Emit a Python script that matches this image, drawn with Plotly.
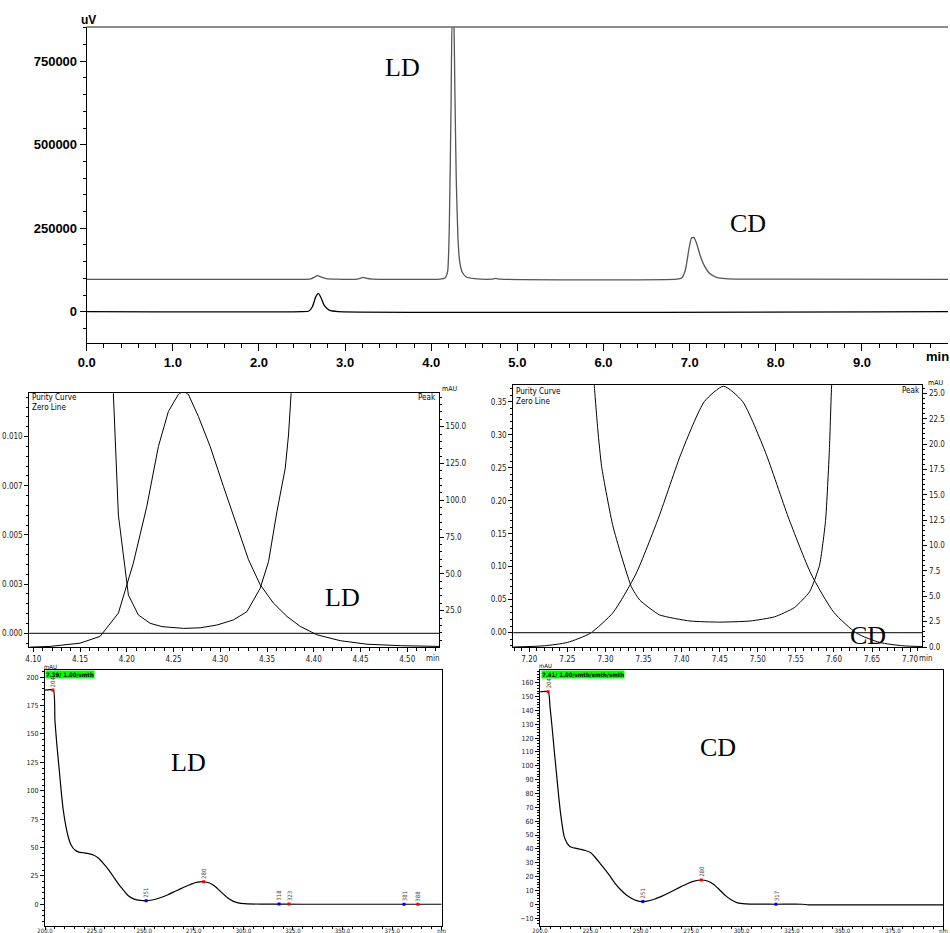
import plotly.graph_objects as go

# ---------------- data ----------------
# Top chromatogram (uV vs min)
chrom_a_time = [0.00, 2.50, 2.60, 2.64, 2.68, 2.72, 2.78, 2.90, 3.14, 3.18, 3.21, 3.25, 3.32,
                4.10, 4.16, 4.19, 4.21, 4.23, 4.245, 4.26, 4.275, 4.29, 4.31, 4.33, 4.36, 4.41,
                4.50, 4.70, 4.75, 4.80, 6.85, 6.91, 6.95, 6.99, 7.02, 7.05, 7.08, 7.12, 7.17,
                7.23, 7.31, 7.42, 7.60, 10.00]
chrom_a_uv = [97000, 97000, 98500, 103000, 108000, 104000, 99000, 97500, 97500, 100500, 103000,
              99500, 97500, 97500, 101000, 120000, 260000, 620000, 900000, 880000, 650000, 400000,
              220000, 150000, 118000, 103000, 99000, 97500, 99500, 97500, 97500, 102000, 125000,
              185000, 220000, 222000, 205000, 170000, 138000, 115000, 103000, 99000, 97500, 97000]
chrom_b_time = [0.00, 2.50, 2.58, 2.62, 2.66, 2.69, 2.72, 2.76, 2.82, 2.92, 10.00]
chrom_b_uv = [0, 0, 2000, 15000, 45000, 55000, 42000, 18000, 4000, 500, 0]
top_y_ticks = [0, 250000, 500000, 750000]

# LD peak-purity panel
ld_peak_time = [4.096, 4.118, 4.150, 4.1714, 4.191, 4.207, 4.2214, 4.2338, 4.2445, 4.2552,
                4.2603, 4.2659, 4.2766, 4.2892, 4.3034, 4.3178, 4.3302, 4.3427, 4.3569, 4.3713,
                4.3855, 4.4034, 4.4283, 4.4569, 4.4925, 4.534]
ld_peak_mau = [0.2, 0.7, 2.9, 7.5, 23.3, 57.3, 95.8, 136.5, 160.3, 171.9, 174, 171.9, 156.9,
               136.5, 109.4, 82.2, 59.6, 42.6, 30.1, 21.1, 14.3, 8.6, 4.6, 2.2, 1.2, 0.7]
ld_pur_time = [4.1850, 4.1856, 4.1910, 4.2017, 4.2124, 4.2249, 4.2375, 4.2606, 4.2785, 4.2963,
               4.3141, 4.3285, 4.3427, 4.3516, 4.3606, 4.3695, 4.3730, 4.3766, 4.3775]
ld_purity = [0.0135, 0.01221, 0.00601, 0.00195, 0.00093, 0.00051, 0.00034, 0.00025, 0.00028,
             0.00042, 0.00068, 0.00110, 0.00229, 0.00364, 0.00618, 0.00838, 0.01008, 0.01221,
             0.0135]

# CD peak-purity panel
cd_peak_time = [7.179, 7.22, 7.25, 7.28, 7.31, 7.34, 7.37, 7.40, 7.43, 7.455, 7.48, 7.51, 7.54,
                7.57, 7.60, 7.63, 7.66, 7.69, 7.716]
cd_peak_mau = [0.0, 0.12, 0.45, 1.35, 3.4, 7.2, 12.8, 19.2, 24.2, 25.7, 24.2, 19.2, 12.8, 7.2,
               3.4, 1.35, 0.45, 0.12, 0.05]
cd_pur_time = [7.2840, 7.2853, 7.290, 7.295, 7.310, 7.334, 7.345, 7.371, 7.411, 7.450, 7.490,
               7.522, 7.548, 7.568, 7.581, 7.589, 7.594, 7.597, 7.599]
cd_purity = [0.40, 0.375, 0.307, 0.2515, 0.1606, 0.0697, 0.0495, 0.027, 0.0177, 0.016, 0.0177,
             0.024, 0.038, 0.062, 0.102, 0.170, 0.277, 0.375, 0.40]

# UV spectra
ld_spec_nm = [200, 204.2, 205, 206, 207.2, 208.2, 209.2, 210.4, 211.7, 213.2, 215.1, 217, 219.3,
              222, 224.4, 227, 229.4, 232, 234.5, 237, 239.5, 242, 245, 248, 251, 254, 258, 262,
              266, 270, 274, 277, 280, 283, 286, 289, 292, 295, 298, 302, 310, 330, 360, 400]
ld_spec_mau = [188.6, 188.6, 162, 140, 118, 99, 83, 70, 59.5, 52, 47.8, 46, 45.4, 44.6, 43.4,
               40.5, 36, 30.5, 24.3, 18, 12.6, 7.5, 4.6, 3.5, 3.2, 3.8, 5.8, 8.5, 11.8, 15, 18,
               19.5, 19.9, 18.8, 15.5, 10.5, 5.8, 2.6, 1.0, 0.4, 0.2, 0.1, 0.1, 0.1]
ld_mark_nm = [204, 251, 280, 318, 323, 381, 388]
ld_mark_mau = [188.6, 3.2, 19.9, 0.2, 0.2, 0.1, 0.1]
ld_mark_color = ["red", "blue", "red", "blue", "red", "blue", "red"]

cd_spec_nm = [200, 204.1, 205, 205.8, 207, 208, 209, 210, 211, 212, 213.5, 215, 217.5, 220,
              222.5, 225, 227, 229.1, 232, 234.9, 237, 240, 243, 246, 248, 250.5, 253, 257, 261,
              265, 269, 273, 276, 280.2, 283, 286, 289, 292, 295, 298, 302, 310, 317, 330, 333,
              360, 400]
cd_spec_mau = [153.5, 153.5, 142, 130.7, 112, 97, 82, 68, 57, 48.8, 44, 41.6, 40.5, 39.7, 38.8,
               37.3, 34.5, 30.8, 25.5, 19.9, 15.5, 10.5, 6.5, 3.8, 2.6, 1.9, 2.3, 3.8, 6.2, 9,
               12, 14.8, 16.5, 17.5, 16.8, 14.5, 10.5, 6.2, 3.0, 1.0, 0.3, 0.1, 0, 0, -0.4,
               -0.5, -0.5]
cd_mark_nm = [204, 251, 280, 317]
cd_mark_mau = [153.5, 1.9, 17.5, 0.0]
cd_mark_color = ["red", "blue", "red", "blue"]

# ---------------- helpers ----------------
W, H = 950, 933


def px(p):
    return p / W


def py(p):
    return 1 - p / H


SANS = "Liberation Sans, Arial, sans-serif"
NARROW = "Liberation Sans Narrow, Arial Narrow, DejaVu Sans Condensed, Liberation Sans, sans-serif"
SERIF = "Liberation Serif, Times New Roman, serif"

fig = go.Figure()

# top chromatogram
fig.add_trace(go.Scatter(x=chrom_a_time, y=chrom_a_uv, mode="lines", xaxis="x", yaxis="y",
                         line=dict(color="#555555", width=1.3, shape="spline", smoothing=0.5)))
fig.add_trace(go.Scatter(x=chrom_b_time, y=chrom_b_uv, mode="lines", xaxis="x", yaxis="y",
                         line=dict(color="black", width=1.3, shape="spline", smoothing=0.5)))

# LD purity panel
fig.add_trace(go.Scatter(x=ld_peak_time, y=ld_peak_mau, mode="lines", xaxis="x2", yaxis="y3",
                         line=dict(color="black", width=1)))
fig.add_trace(go.Scatter(x=ld_pur_time, y=ld_purity, mode="lines", xaxis="x2", yaxis="y2",
                         line=dict(color="black", width=1)))

# CD purity panel
fig.add_trace(go.Scatter(x=cd_peak_time, y=cd_peak_mau, mode="lines", xaxis="x3", yaxis="y5",
                         line=dict(color="black", width=1, shape="spline", smoothing=0.6)))
fig.add_trace(go.Scatter(x=cd_pur_time, y=cd_purity, mode="lines", xaxis="x3", yaxis="y4",
                         line=dict(color="black", width=1, shape="spline", smoothing=0.5)))

# spectra
fig.add_trace(go.Scatter(x=ld_spec_nm, y=ld_spec_mau, mode="lines", xaxis="x4", yaxis="y6",
                         line=dict(color="black", width=1.2, shape="spline", smoothing=0.5)))
fig.add_trace(go.Scatter(x=ld_mark_nm, y=ld_mark_mau, mode="markers", xaxis="x4", yaxis="y6",
                         marker=dict(color=ld_mark_color, size=3, symbol="square")))
fig.add_trace(go.Scatter(x=cd_spec_nm, y=cd_spec_mau, mode="lines", xaxis="x5", yaxis="y7",
                         line=dict(color="black", width=1.2, shape="spline", smoothing=0.5)))
fig.add_trace(go.Scatter(x=cd_mark_nm, y=cd_mark_mau, mode="markers", xaxis="x5", yaxis="y7",
                         marker=dict(color=cd_mark_color, size=3, symbol="square")))

common = dict(showgrid=False, zeroline=False, showline=True, linecolor="black", linewidth=1,
              ticks="outside", tickcolor="black", tickwidth=1, automargin=False)

mid_font = dict(family=NARROW, size=8, color="#222222")
bot_font = dict(family=NARROW, size=6, color="#222222")

fig.update_layout(
    width=W, height=H, margin=dict(l=0, r=0, t=0, b=0, autoexpand=False),
    paper_bgcolor="white", plot_bgcolor="rgba(0,0,0,0)", showlegend=False,
    # ---- top
    xaxis=dict(domain=[px(86.7), px(948)], anchor="y", range=[0, 9.999], tick0=0, dtick=1,
               tickformat=".1f", ticklen=7,
               tickfont=dict(family=SANS, size=13, color="black", weight="bold"),
               minor=dict(dtick=0.2, tick0=0, ticklen=4, ticks="outside", tickcolor="black"),
               **common),
    yaxis=dict(domain=[py(343), py(27)], anchor="x", range=[-93700, 852400],
               tickvals=top_y_ticks, tickformat="d", ticklen=6,
               tickfont=dict(family=SANS, size=13, color="black", weight="bold"),
               minor=dict(dtick=50000, tick0=0, ticklen=3, ticks="outside", tickcolor="black"),
               **common),
    # ---- middle left
    xaxis2=dict(domain=[px(29.3), px(439)], anchor="y2", range=[4.0957, 4.534], tick0=4.10,
                dtick=0.05, tickformat=".2f", ticklen=4, tickfont=mid_font, mirror=True,
                minor=dict(dtick=0.01, tick0=4.10, ticklen=3, ticks="outside", tickcolor="black"),
                **common),
    yaxis2=dict(domain=[py(647), py(393.3)], anchor="x2", range=[-0.000696, 0.0122],
                tick0=0, dtick=0.0025, tickformat=".4f", ticklen=4, tickfont=mid_font,
                labelalias={"0.0000": "0.000", "0.0025": "0.003", "0.0050": "0.005",
                            "0.0075": "0.007", "0.0100": "0.010"},
                minor=dict(dtick=0.0005, tick0=0, ticklen=2, ticks="outside", tickcolor="black"),
                **common),
    yaxis3=dict(overlaying="y2", side="right", anchor="x2", range=[0.3, 172.65], tick0=0,
                dtick=25, tickformat=".1f", ticklen=4, tickfont=mid_font,
                minor=dict(dtick=5, tick0=0, ticklen=2, ticks="outside", tickcolor="black"),
                **common),
    # ---- middle right
    xaxis3=dict(domain=[px(513.3), px(922.3)], anchor="y4", range=[7.179, 7.716], tick0=7.20,
                dtick=0.05, tickformat=".2f", ticklen=4, tickfont=mid_font, mirror=True,
                minor=dict(dtick=0.01, tick0=7.20, ticklen=3, ticks="outside", tickcolor="black"),
                **common),
    yaxis4=dict(domain=[py(647), py(385)], anchor="x3", range=[-0.0217, 0.3753], tick0=0,
                dtick=0.05, tickformat=".2f", ticklen=4, tickfont=mid_font,
                minor=dict(dtick=0.01, tick0=0, ticklen=2, ticks="outside", tickcolor="black"),
                **common),
    yaxis5=dict(overlaying="y4", side="right", anchor="x3", range=[0, 25.82], tick0=0,
                dtick=2.5, tickformat=".1f", ticklen=4, tickfont=mid_font,
                minor=dict(dtick=0.5, tick0=0, ticklen=2, ticks="outside", tickcolor="black"),
                **common),
    # ---- bottom left
    xaxis4=dict(domain=[px(45), px(441.7)], anchor="y6", range=[200, 400], tick0=200, dtick=25,
                tickformat=".1f", ticklen=3, tickfont=bot_font, mirror=True,
                labelalias={"400.0": "nm"}, ticklabelstandoff=-4,
                minor=dict(dtick=5, tick0=200, ticklen=2, ticks="outside", tickcolor="black"),
                **common),
    yaxis6=dict(domain=[py(925.7), py(669.5)], anchor="x4", range=[-18.8, 206.7], tick0=0,
                dtick=25, ticklen=4, tickfont=dict(family=NARROW, size=7, color="#222222"),
                mirror=True,
                minor=dict(dtick=5, tick0=0, ticklen=2, ticks="outside", tickcolor="black"),
                **common),
    # ---- bottom right
    xaxis5=dict(domain=[px(540), px(943.3)], anchor="y7", range=[200, 400], tick0=200, dtick=25,
                tickformat=".1f", ticklen=3, tickfont=bot_font, mirror=True,
                labelalias={"400.0": "nm"}, ticklabelstandoff=-4,
                minor=dict(dtick=5, tick0=200, ticklen=2, ticks="outside", tickcolor="black"),
                **common),
    yaxis7=dict(domain=[py(925.7), py(670)], anchor="x5", range=[-15.5, 169.2], tick0=0,
                dtick=10, ticklen=4, tickfont=dict(family=NARROW, size=7, color="#222222"),
                mirror=True,
                minor=dict(dtick=2, tick0=0, ticklen=2, ticks="outside", tickcolor="black"),
                **common),
)

shapes = [
    dict(type="line", xref="x domain", yref="y domain", x0=0, x1=1, y0=1, y1=1,
         line=dict(color="#666666", width=1.3)),
    dict(type="line", xref="x2 domain", yref="y2", x0=0, x1=1, y0=0, y1=0,
         line=dict(color="black", width=1)),
    dict(type="line", xref="x3 domain", yref="y4", x0=0, x1=1, y0=0, y1=0,
         line=dict(color="#333333", width=1.2)),
]
fig.update_layout(shapes=shapes)


def ann(x, y, text, size, family=SANS, color="black", xanchor="center", yanchor="middle",
        weight="normal", **kw):
    return dict(x=px(x), y=py(y), xref="paper", yref="paper", text=text, showarrow=False,
                xanchor=xanchor, yanchor=yanchor,
                font=dict(family=family, size=size, color=color, weight=weight), **kw)


annotations = [
    ann(88, 20, "uV", 12, weight="bold"),
    ann(937, 357, "min", 13, weight="bold"),
    ann(402, 68, "LD", 26, family=SERIF),
    ann(748, 224, "CD", 26, family=SERIF),
    # middle left
    ann(30, 397.7, "Purity Curve", 8, family=NARROW, xanchor="left"),
    ann(30, 407, "Zero Line", 8, family=NARROW, xanchor="left"),
    ann(449, 389, "mAU", 7, family=NARROW),
    ann(438, 397.7, "Peak", 8, family=NARROW, xanchor="right"),
    ann(342, 597, "LD", 26, family=SERIF),
    ann(433, 658, "min", 8, family=NARROW, color="#222222"),
    # middle right
    ann(514, 391.7, "Purity Curve", 8, family=NARROW, xanchor="left"),
    ann(514, 401.7, "Zero Line", 8, family=NARROW, xanchor="left"),
    ann(935, 382.7, "mAU", 7, family=NARROW),
    ann(922, 390, "Peak", 8, family=NARROW, xanchor="right"),
    ann(868, 635, "CD", 26, family=SERIF),
    ann(917, 658, "min", 8, family=NARROW, color="#222222", xanchor="left"),
    # bottom left
    ann(50, 666, "mAU", 6, family=NARROW),
    ann(44.5, 669.5, "7.39/ 1.00/smth", 6, family=NARROW, xanchor="left", yanchor="top",
        weight="bold", bgcolor="#00ff00", borderpad=0),
    ann(188, 762, "LD", 26, family=SERIF),
    # bottom right
    ann(545, 665.5, "mAU", 6, family=NARROW),
    ann(540.5, 670, "7.41/ 1.00/smth/smth/smth", 6, family=NARROW, xanchor="left",
        yanchor="top", weight="bold", bgcolor="#00ff00", borderpad=0),
    ann(718, 747, "CD", 26, family=SERIF),
]

for nm, v in zip(ld_mark_nm, ld_mark_mau):
    annotations.append(dict(x=nm, y=v, xref="x4", yref="y6", text=str(nm), showarrow=False,
                            textangle=-90, xanchor="center", yanchor="bottom", yshift=1,
                            font=dict(family=NARROW, size=6, color="#444444")))
for nm, v in zip(cd_mark_nm, cd_mark_mau):
    annotations.append(dict(x=nm, y=v, xref="x5", yref="y7", text=str(nm), showarrow=False,
                            textangle=-90, xanchor="center", yanchor="bottom", yshift=1,
                            font=dict(family=NARROW, size=6, color="#444444")))

fig.update_layout(annotations=annotations)

fig.write_html("out.html", config={"displayModeBar": False},
               post_script="document.body.style.margin='0px';"
                           "document.body.style.overflow='hidden';")
